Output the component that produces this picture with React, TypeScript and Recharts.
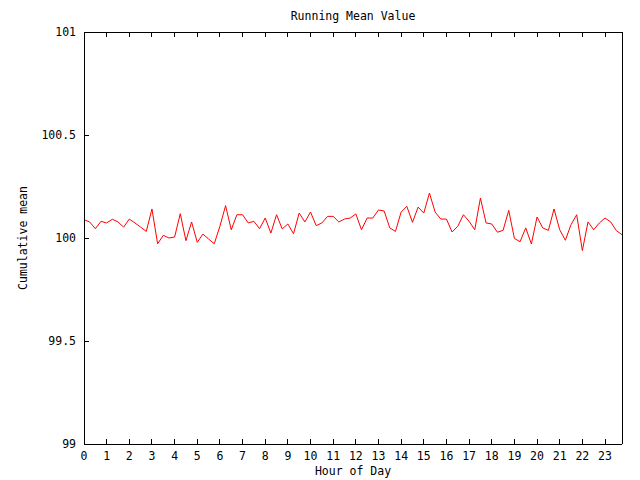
import { LineChart, Line, XAxis, YAxis, Label } from 'recharts';

// cumulative mean sampled every 15 minutes, split into 6-hour blocks
const nightValues = [
  100.089, 100.078, 100.045, 100.081, 100.073, 100.091, 100.078, 100.053,
  100.092, 100.073, 100.053, 100.032, 100.141, 99.972, 100.013, 100.0,
  100.005, 100.118, 99.987, 100.078, 99.979, 100.019, 99.995, 99.972,
];
const morningValues = [
  100.057, 100.157, 100.04, 100.113, 100.113, 100.073, 100.081, 100.045,
  100.097, 100.024, 100.113, 100.044, 100.068, 100.021, 100.121, 100.078,
  100.126, 100.06, 100.073, 100.105, 100.105, 100.078, 100.092, 100.097,
];
const afternoonValues = [
  100.117, 100.04, 100.097, 100.097, 100.136, 100.131, 100.049, 100.032,
  100.126, 100.154, 100.076, 100.15, 100.121, 100.218, 100.126, 100.092,
  100.092, 100.029, 100.057, 100.113, 100.081, 100.04, 100.194, 100.073,
];
const eveningValues = [
  100.068, 100.028, 100.037, 100.134, 99.998, 99.982, 100.049, 99.971,
  100.102, 100.049, 100.037, 100.141, 100.04, 99.989, 100.065, 100.113,
  99.939, 100.078, 100.04, 100.073, 100.097, 100.078, 100.036, 100.016,
];

const hourTicks = [0, 1, 2, 3, 4, 5, 6, 7, 8, 9, 10, 11, 12, 13, 14, 15, 16, 17, 18, 19, 20, 21, 22, 23];
const meanTicks = [99, 99.5, 100, 100.5, 101];
const hourDomain = [0, 23.75];
const meanDomain = [99, 101];

const runningMean = [...nightValues, ...morningValues, ...afternoonValues, ...eveningValues];
const chartData = runningMean.map((mean, i) => ({ hour: i / 4, mean }));

const FONT = '"DejaVu Sans Mono", "Liberation Mono", monospace';
const FONT_SIZE = 11.5;
const TICK_LEN = 5;
const LABEL_GAP = 12;

const BottomTick = ({ x, y, payload }: any) => {
  const axisY = y - LABEL_GAP;
  return (
    <g>
      <line x1={x} x2={x} y1={axisY} y2={axisY - TICK_LEN} stroke="#000" shapeRendering="crispEdges" />
      <text x={x} y={y} textAnchor="middle" dominantBaseline="central" fontFamily={FONT} fontSize={FONT_SIZE} fill="#000">
        {payload.value}
      </text>
    </g>
  );
};

const LeftTick = ({ x, y, payload }: any) => {
  const axisX = x + 8;
  return (
    <g>
      <line x1={axisX} x2={axisX + TICK_LEN} y1={y} y2={y} stroke="#000" shapeRendering="crispEdges" />
      <text x={x} y={y} textAnchor="end" dominantBaseline="central" fontFamily={FONT} fontSize={FONT_SIZE} fill="#000">
        {payload.value}
      </text>
    </g>
  );
};

const TopTick = ({ x, y }: any) => (
  <line x1={x} x2={x} y1={y} y2={y + TICK_LEN} stroke="#000" shapeRendering="crispEdges" />
);

const RightTick = ({ x, y }: any) => (
  <line x1={x} x2={x - TICK_LEN} y1={y} y2={y} stroke="#000" shapeRendering="crispEdges" />
);

const textProps = { fontFamily: FONT, fontSize: FONT_SIZE, fill: '#000' };
const axisLine = { stroke: '#000', shapeRendering: 'crispEdges' };

export default function App() {
  return (
    <div style={{ position: 'absolute', left: 0, top: 0, width: 640, height: 480, background: '#fff' }}>
      <LineChart width={640} height={480} data={chartData} margin={{ top: 0, right: 0, bottom: 0, left: 0 }}>
        <XAxis
          dataKey="hour"
          type="number"
          domain={hourDomain}
          ticks={hourTicks}
          interval={0}
          height={36}
          tickLine={false}
          tickSize={0}
          tickMargin={LABEL_GAP}
          axisLine={axisLine}
          tick={<BottomTick />}
        >
          <Label
            content={({ viewBox }: any) => (
              <text x={viewBox.x + viewBox.width / 2} y={viewBox.y + 27} textAnchor="middle" dominantBaseline="central" {...textProps}>
                Hour of Day
              </text>
            )}
          />
        </XAxis>
        <XAxis
          xAxisId="top"
          orientation="top"
          dataKey="hour"
          type="number"
          domain={hourDomain}
          ticks={hourTicks}
          interval={0}
          height={32}
          tickLine={false}
          tickSize={0}
          tickMargin={0}
          axisLine={axisLine}
          tick={<TopTick />}
        >
          <Label
            content={({ viewBox }: any) => (
              <text x={viewBox.x + viewBox.width / 2} y={viewBox.y + 16} textAnchor="middle" dominantBaseline="central" {...textProps}>
                Running Mean Value
              </text>
            )}
          />
        </XAxis>
        <YAxis
          type="number"
          domain={meanDomain}
          ticks={meanTicks}
          interval={0}
          width={84}
          tickLine={false}
          tickSize={0}
          tickMargin={8}
          axisLine={axisLine}
          tick={<LeftTick />}
        >
          <Label
            content={({ viewBox }: any) => {
              const cx = viewBox.x + 23;
              const cy = viewBox.y + viewBox.height / 2;
              return (
                <text x={cx} y={cy} textAnchor="middle" dominantBaseline="central" transform={`rotate(-90 ${cx} ${cy})`} {...textProps}>
                  Cumulative mean
                </text>
              );
            }}
          />
        </YAxis>
        <YAxis
          yAxisId="right"
          orientation="right"
          type="number"
          domain={meanDomain}
          ticks={meanTicks}
          interval={0}
          width={18}
          tickLine={false}
          tickSize={0}
          tickMargin={0}
          axisLine={axisLine}
          tick={<RightTick />}
        />
        <Line
          dataKey="mean"
          type="linear"
          stroke="#ff0000"
          strokeWidth={1}
          dot={false}
          activeDot={false}
          isAnimationActive={false}
        />
      </LineChart>
    </div>
  );
}
